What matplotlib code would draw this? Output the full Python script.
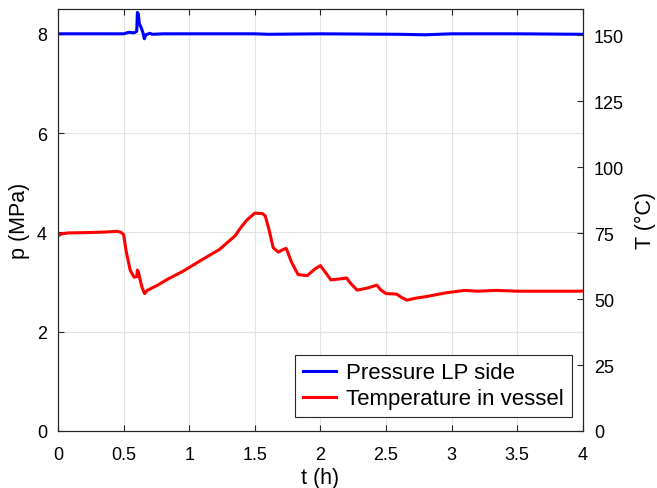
import matplotlib.pyplot as plt

plt.rcParams['font.family'] = ['Liberation Sans', 'DejaVu Sans']
plt.rcParams['font.size'] = 13

# pressure on LP side (MPa)
t_p = [0.0, 0.2, 0.4, 0.5, 0.54, 0.58, 0.60, 0.605, 0.612, 0.62, 0.635, 0.65, 0.658, 0.67,
       0.70, 0.72, 0.8, 1.0, 1.5, 1.6, 2.0, 2.6, 2.8, 3.0, 3.5, 4.0]
p = [8.0, 8.0, 8.0, 8.0, 8.03, 8.02, 8.05, 8.43, 8.40, 8.2, 8.12, 8.0, 7.90, 7.98,
     8.01, 7.99, 8.0, 8.0, 8.0, 7.99, 8.0, 7.99, 7.98, 8.0, 8.0, 7.99]

# temperature in vessel (degC)
t_T = [0.0, 0.03, 0.08, 0.2, 0.35, 0.45, 0.48, 0.5, 0.52, 0.55, 0.58, 0.6, 0.605, 0.612,
       0.625, 0.64, 0.66, 0.68, 0.72, 0.76, 0.83, 0.95, 1.1, 1.23, 1.35, 1.39, 1.44,
       1.5, 1.56, 1.58, 1.61, 1.64, 1.68, 1.72, 1.74, 1.78, 1.83, 1.9, 1.96, 2.0, 2.04,
       2.08, 2.14, 2.2, 2.23, 2.28, 2.36, 2.43, 2.46, 2.5, 2.58, 2.62, 2.66, 2.72, 2.8,
       2.96, 3.1, 3.2, 3.34, 3.5, 3.7, 3.98, 4.0]
T = [74.0, 74.8, 75.1, 75.2, 75.4, 75.7, 75.3, 74.5, 68.0, 61.0, 58.3, 58.5, 61.0, 60.5,
     57.5, 54.5, 52.1, 53.3, 54.3, 55.3, 57.4, 60.5, 65.0, 68.8, 74.0, 76.9, 80.0,
     82.6, 82.4, 81.5, 76.0, 69.5, 67.8, 68.9, 69.2, 64.0, 59.3, 58.9, 61.5, 62.7, 60.0,
     57.3, 57.6, 58.0, 56.0, 53.4, 54.2, 55.3, 53.5, 52.1, 51.9, 50.6, 49.6, 50.3, 50.9,
     52.4, 53.3, 53.0, 53.3, 53.0, 53.0, 53.0, 53.1]

fig = plt.figure(figsize=(6.57, 4.89), dpi=100)
ax1 = fig.add_axes([0.0883, 0.1166, 0.7987, 0.863])
ax2 = ax1.twinx()

l1, = ax1.plot(t_p, p, color=(0, 0, 1), lw=2.2, label='Pressure LP side')
l2, = ax2.plot(t_T, T, color=(1, 0, 0), lw=2.2, label='Temperature in vessel')

ax1.set_xlim(0, 4)
ax1.set_ylim(0, 8.5)
ax2.set_ylim(0, 160)
ax1.set_xticks([0, 0.5, 1, 1.5, 2, 2.5, 3, 3.5, 4])
ax1.set_xticklabels(['0', '0.5', '1', '1.5', '2', '2.5', '3', '3.5', '4'])
ax1.set_yticks([0, 2, 4, 6, 8])
ax2.set_yticks([0, 25, 50, 75, 100, 125, 150])

ax1.grid(True, color='#e3e3e3', lw=0.8)
ax1.set_axisbelow(True)
for ax in (ax1, ax2):
    ax.tick_params(direction='in', length=4, width=0.8, colors='#262626',
                   labelcolor='black', labelsize=13, pad=8)
    for s in ax.spines.values():
        s.set_color('#262626')
        s.set_linewidth(0.8)
ax1.tick_params(axis='x', pad=11)
ax1.tick_params(top=True)

ax1.set_xlabel('t (h)', fontsize=15.5, labelpad=3)
ax1.set_ylabel('p (MPa)', fontsize=15.5, labelpad=5)
ax2.set_ylabel('T (°C)', fontsize=15.5, labelpad=8)

leg = ax2.legend(handles=[l1, l2], loc='lower right', bbox_to_anchor=(0.979, 0.033),
                 fancybox=False, framealpha=1, edgecolor='#262626', borderpad=0.35,
                 handlelength=1.5, handletextpad=0.45, labelspacing=0.22, fontsize=16,
                 borderaxespad=0)
leg.get_frame().set_linewidth(0.8)

fig.savefig('out.png', dpi=100)
